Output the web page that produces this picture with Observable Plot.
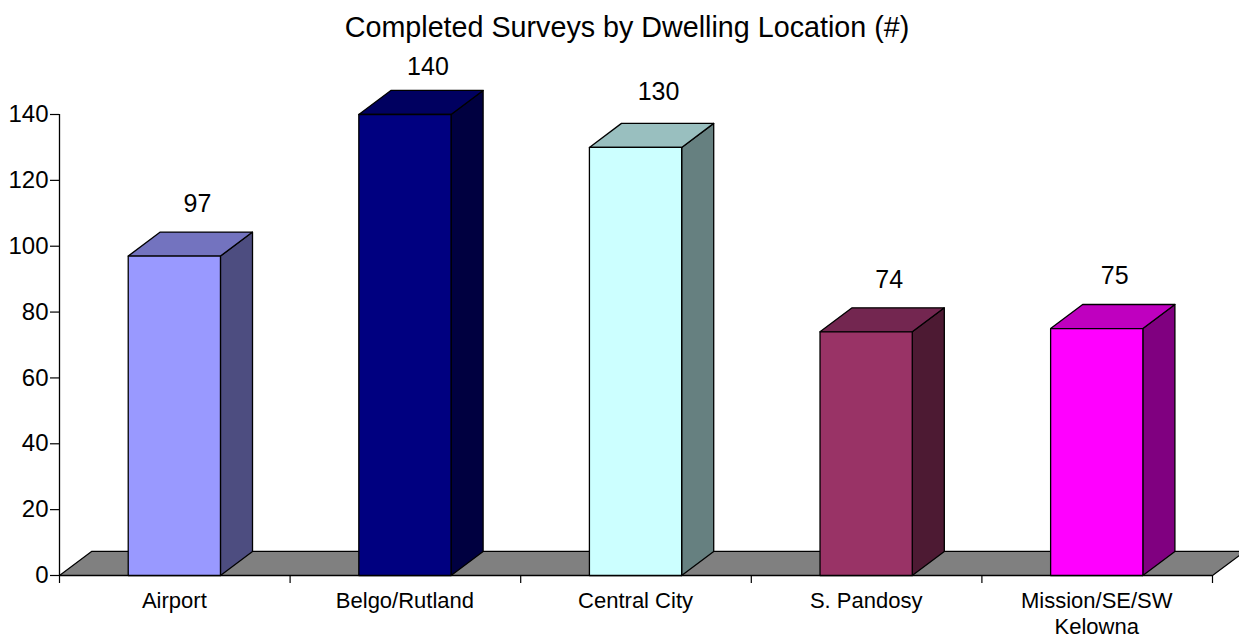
<!DOCTYPE html>
<html>
<head>
<meta charset="utf-8">
<script src="https://cdn.jsdelivr.net/npm/d3@7"></script>
<script src="https://cdn.jsdelivr.net/npm/@observablehq/plot@0.6"></script>
<style>
html,body{margin:0;padding:0;background:#fff;overflow:hidden}
#title{box-sizing:border-box;width:1239px;height:50px;padding:12px 0 0 15px;text-align:center;font:28.7px/30px "Liberation Sans",Arial,sans-serif;color:#000;white-space:nowrap}
svg{display:block}
</style>
</head>
<body>
<div id="title">Completed Surveys by Dwelling Location (#)</div>
<div id="chart"></div>
<script>
const categories = ["Airport", "Belgo/Rutland", "Central City", "S. Pandosy", "Mission/SE/SW\nKelowna"];
const values = [97, 140, 130, 74, 75];
const faceColors = ["#9999FF", "#000080", "#CCFFFF", "#993366", "#FF00FF"];
const topColors = ["#7373BF", "#000060", "#99BFBF", "#732650", "#BF00BF"];
const sideColors = ["#4D4D80", "#000040", "#668080", "#4D1A33", "#800080"];
const yTicks = [0, 20, 40, 60, 80, 100, 120, 140];
const floorColor = "#808080";

const depthX = 0.139, depthY = 7.3, halfBar = 0.2, shift = -0.002;
const poly = (id, fill, pts) => pts.map(([x, y]) => ({id, fill, x, y}));

const floor = poly("floor", floorColor, [[0,0],[depthX,depthY],[5+depthX,depthY],[5,0]]);
const faces = values.flatMap((v, i) => {
  const l = i + 0.5 + shift - halfBar, r = i + 0.5 + shift + halfBar;
  return [
    ...poly(`side${i}`, sideColors[i], [[r,0],[r+depthX,depthY],[r+depthX,v+depthY],[r,v]]),
    ...poly(`top${i}`, topColors[i], [[l,v],[l+depthX,v+depthY],[r+depthX,v+depthY],[r,v]]),
    ...poly(`front${i}`, faceColors[i], [[l,0],[l,v],[r,v],[r,0]])
  ];
});
const labelNudge = [[-1,-28],[-1,-23],[-1,-31],[-1,-28],[-6,-28]];
const rows = categories.map((c, i) => ({c, v: values[i], i}));

const plot = Plot.plot({
  width: 1239, height: 588,
  marginLeft: 59, marginRight: 27, marginTop: 64, marginBottom: 63,
  x: {type: "linear", domain: [0, 5], axis: null},
  y: {type: "linear", domain: [0, 140], axis: null},
  color: {type: "identity"},
  style: {fontFamily: '"Liberation Sans",Arial,sans-serif', color: "#000", background: "#fff", overflow: "hidden"},
  marks: [
    Plot.line(floor, {x: "x", y: "y", z: "id", fill: "fill", stroke: "#000", strokeWidth: 1.2, curve: "linear-closed"}),
    Plot.ruleY([0], {stroke: "#000", strokeWidth: 1.3}),
    Plot.ruleX([0], {y1: 0, y2: 140, stroke: "#000", strokeWidth: 1.3}),
    Plot.axisY({ticks: yTicks, anchor: "left", tickSize: 9, tickPadding: 2, fontSize: 24, label: null, stroke: "#000", strokeWidth: 1.2}),
    Plot.axisX({ticks: d3.range(6), anchor: "bottom", tickSize: 8, tickFormat: () => "", label: null, stroke: "#000", strokeWidth: 1.2}),
    Plot.line(faces, {x: "x", y: "y", z: "id", fill: "fill", stroke: "#000", strokeWidth: 1.3, curve: "linear-closed"}),
    Plot.text(rows, {x: d => d.i + 0.5 + shift, y: () => 0, text: "c", dy: 15, lineAnchor: "top", fontSize: 22, lineHeight: 1.15, fill: "#000"}),
    ...rows.map((d, i) => Plot.text([d], {
      x: d => d.i + 0.5 + shift + depthX * 0.75, y: d => d.v + depthY, text: d => String(d.v),
      dx: labelNudge[i][0], dy: labelNudge[i][1], fontSize: 25, fill: "#000"
    }))
  ]
});
document.getElementById("chart").appendChild(plot);
</script>
</body>
</html>
